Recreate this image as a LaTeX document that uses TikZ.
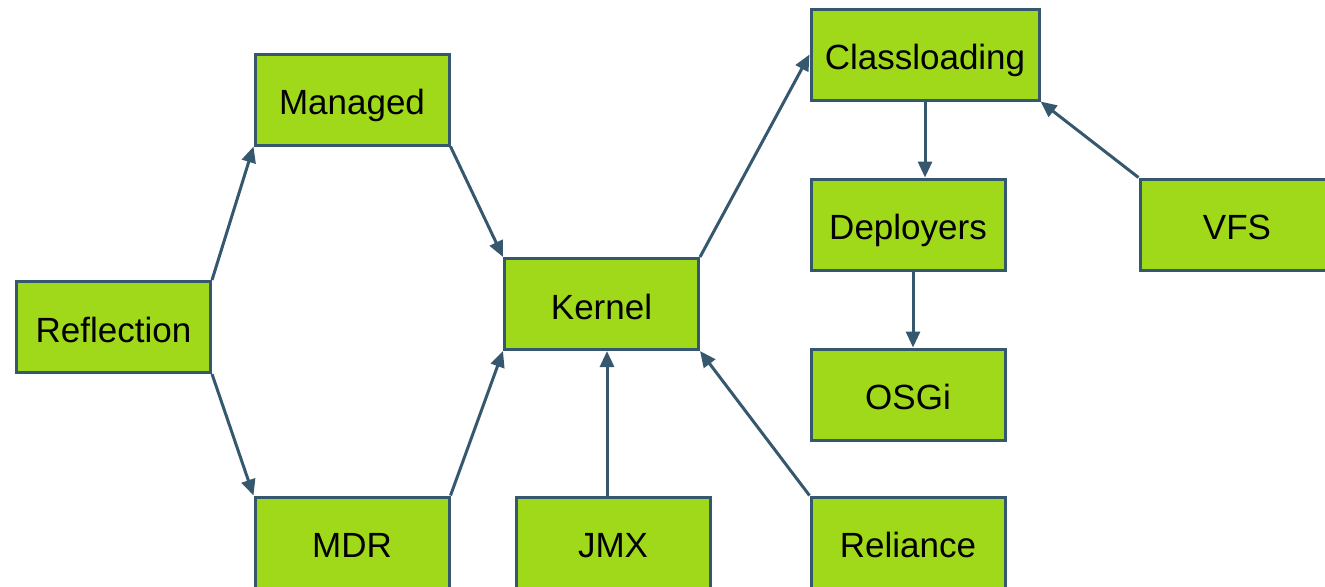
\documentclass[tikz,border=0pt]{standalone}
\usepackage{fontspec}
\setmainfont{Liberation Sans}
\usetikzlibrary{arrows.meta,calc}
\definecolor{boxfill}{HTML}{A0D91A}
\definecolor{boxline}{HTML}{36586E}
\begin{document}
\begin{tikzpicture}[x=0.5pt,y=-0.5pt,
  box/.style={draw=boxline,fill=boxfill,line width=1.5pt,rectangle,inner sep=0pt,
    minimum width=97pt,minimum height=45.5pt,text height=15pt,text depth=0pt,
    font=\fontsize{17.5}{20}\selectfont,text=black},
  conn/.style={draw=boxline,line width=1.5pt,-{Triangle[length=8pt,width=7pt]}}]
\useasboundingbox (0,0) rectangle (1325,586);
\clip (0,0) rectangle (1325,586);
\node[box] (refl) at (113.5,327) {Reflection};
\node[box] (managed) at (352,99.5) {Managed};
\node[box] (mdr) at (352,542.5) {MDR};
\node[box] (kernel) at (601.5,304) {Kernel};
\node[box] (jmx) at (613,542.5) {JMX};
\node[box] (reliance) at (908,542.5) {Reliance};
\node[box,minimum width=114pt] (class) at (925,54.5) {Classloading};
\node[box] (deploy) at (908,224.5) {Deployers};
\node[box] (osgi) at (908,394.5) {OSGi};
\node[box] (vfs) at (1237,224.5) {VFS};
\draw[conn] (refl.north east) -- (managed.south west);
\draw[conn] (refl.south east) -- (mdr.north west);
\draw[conn] (managed.south east) -- (kernel.north west);
\draw[conn] (mdr.north east) -- (kernel.south west);
\coordinate (jmxtop) at ([xshift=-3pt]jmx.north);
\draw[conn] (jmxtop) -- (jmxtop |- kernel.south);
\draw[conn] (reliance.north west) -- (kernel.south east);
\draw[conn] (kernel.north east) -- (class.west);
\draw[conn] (class.south) -- (class.south |- deploy.north);
\coordinate (depbot) at ([xshift=2.5pt]deploy.south);
\draw[conn] (depbot) -- (depbot |- osgi.north);
\draw[conn] (vfs.north west) -- (class.south east);
\end{tikzpicture}
\end{document}
